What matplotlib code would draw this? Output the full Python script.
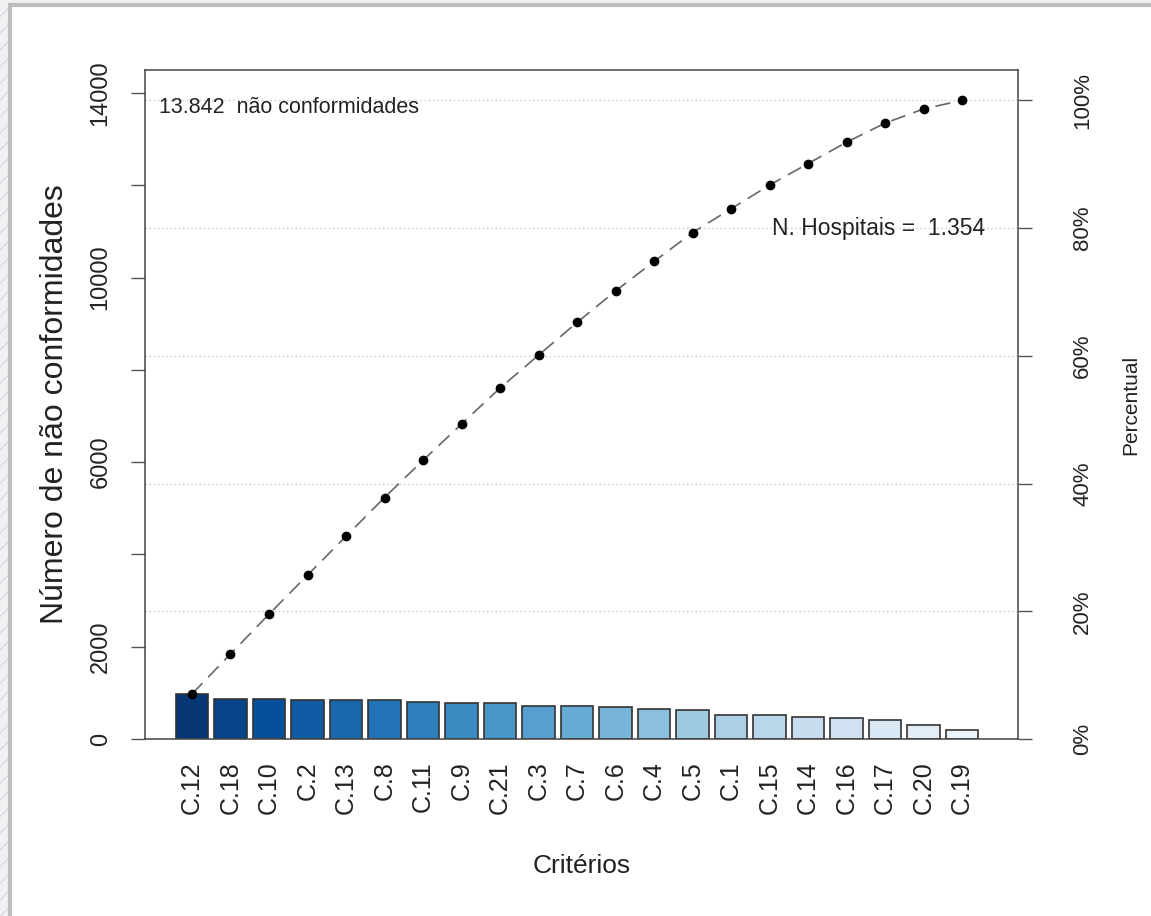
import numpy as np
import matplotlib.pyplot as plt
from matplotlib.patches import Rectangle

plt.rcParams['font.family'] = ['Liberation Sans', 'DejaVu Sans']

# critérios ordenados (Pareto) e número de não conformidades
criterios = ["C.12", "C.18", "C.10", "C.2", "C.13", "C.8", "C.11", "C.9", "C.21",
             "C.3", "C.7", "C.6", "C.4", "C.5", "C.1", "C.15", "C.14", "C.16",
             "C.17", "C.20", "C.19"]
nao_conf = [975, 868, 862, 846, 843, 840, 806, 786, 781, 712, 709, 683, 640,
            624, 517, 514, 466, 463, 414, 307, 186]
pct_labels = ["0%", "20%", "40%", "60%", "80%", "100%"]
y_ticks = [0, 2000, 4000, 6000, 8000, 10000, 12000, 14000]
y_ticklabels = ["0", "2000", "", "6000", "", "10000", "", "14000"]

n = len(criterios)
x = np.arange(n)
total = sum(nao_conf)
acum = np.cumsum(nao_conf)
q = np.linspace(0, total, len(pct_labels))

cores = plt.cm.Blues(np.linspace(0.97, 0.06, n))

fig = plt.figure(figsize=(11.51, 9.16), dpi=100)

# moldura do slide
fig.patches.append(Rectangle((0, 0), 11 / 1151, 1, transform=fig.transFigure,
                             facecolor="#f1f1f4", edgecolor="#d8dbe4", hatch="//",
                             linewidth=0, zorder=-10))
fig.patches.append(Rectangle((0, 1 - 6 / 916), 1, 6 / 916, transform=fig.transFigure,
                             facecolor="#f1f1f4", edgecolor="none", zorder=-10))
fig.patches.append(Rectangle((10 / 1151, -0.01), 1.0, 1 - 5 / 916 + 0.01,
                             transform=fig.transFigure, facecolor="white",
                             edgecolor="#bdbdbd", linewidth=3, zorder=-9))

ax = fig.add_axes([145 / 1151, 1 - 739 / 916, (1018 - 145) / 1151, (739 - 70) / 916])
ax.set_xlim(-1.22, n - 1 + 1.45)
ax.set_ylim(0, total * 1.0475)

for yy in q[1:]:
    ax.axhline(yy, color="#c8c8c8", linestyle=(0, (1, 2)), linewidth=1, zorder=1)

ax.bar(x, nao_conf, width=0.84, color=cores, edgecolor="#333333", linewidth=1.2, zorder=2)
ax.plot(x, acum, color="#666666", linestyle=(0, (9, 5)), linewidth=1.2, zorder=3)
ax.plot(x, acum, "o", color="black", markersize=6, zorder=4)

ax.set_yticks(y_ticks)
ax.set_yticklabels(y_ticklabels, rotation=90, va="center", fontsize=17, color="#222222")
ax.set_xticks(x)
ax.set_xticklabels(criterios, rotation=90, fontsize=18, color="#222222")
ax.tick_params(axis="both", direction="out", length=10, width=1, color="#555555", pad=14)
ax.tick_params(axis="x", length=0, pad=16)
for s in ax.spines.values():
    s.set_color("#444444")
    s.set_linewidth(1.1)

ax.set_ylabel("Número de não conformidades", fontsize=23, labelpad=14, color="#222222")
ax.set_xlabel("Critérios", fontsize=19, labelpad=29, color="#222222")

ax2 = ax.twinx()
ax2.set_ylim(ax.get_ylim())
ax2.set_yticks(q)
ax2.set_yticklabels(pct_labels, rotation=90, va="center", fontsize=16, color="#222222")
ax2.tick_params(axis="y", direction="out", length=10, width=1, color="#555555", pad=29)
ax2.set_ylabel("Percentual", fontsize=15, labelpad=20, color="#222222")
for s in ax2.spines.values():
    s.set_visible(False)

ax.text(-0.85, 13842 * 0.985 + 60, "13.842  não conformidades", fontsize=15.5,
        va="center", ha="left", color="#222222", zorder=5)
ax.text(n - 1 + 0.6, q[4], "N. Hospitais =  1.354", fontsize=16.5,
        va="center", ha="right", color="#222222", zorder=5)

fig.savefig("out.png", dpi=100)
